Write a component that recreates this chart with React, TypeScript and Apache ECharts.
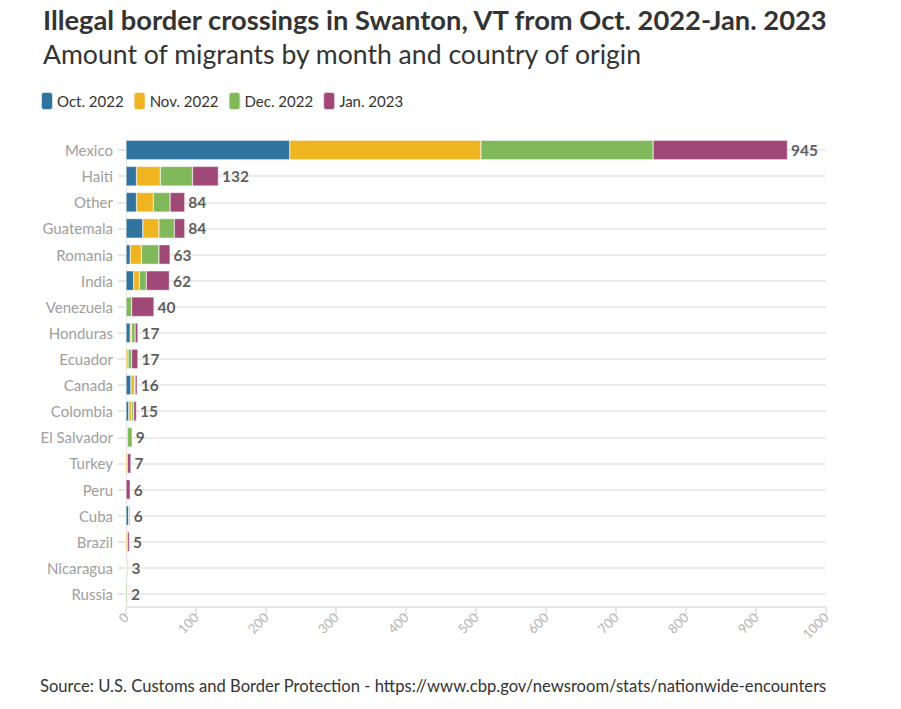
import React, { useEffect, useRef } from "react";
import * as echarts from "echarts";

const countries = [
  "Mexico", "Haiti", "Other", "Guatemala", "Romania", "India", "Venezuela", "Honduras", "Ecuador",
  "Canada", "Colombia", "El Salvador", "Turkey", "Peru", "Cuba", "Brazil", "Nicaragua", "Russia",
];
const months = ["Oct. 2022", "Nov. 2022", "Dec. 2022", "Jan. 2023"];
const oct2022 = [234, 15, 15, 24, 6, 11, 0, 6, 0, 7, 4, 1, 0, 0, 4, 0, 1, 0];
const nov2022 = [273, 34, 24, 23, 16, 8, 0, 2, 3, 5, 4, 1, 2, 0, 0, 2, 0, 0];
const dec2022 = [246, 46, 24, 22, 25, 10, 8, 5, 5, 1, 3, 7, 0, 0, 2, 0, 1, 2];
const jan2023 = [192, 37, 21, 15, 16, 33, 32, 4, 9, 3, 4, 0, 5, 6, 0, 3, 1, 0];

const colors = ["#30739f", "#efb521", "#80b85a", "#a04977"];
const FONT = "Lato, 'Noto Sans', sans-serif";

export default function App() {
  const ref = useRef<HTMLDivElement>(null);

  useEffect(() => {
    if (!ref.current) return;
    const chart = echarts.init(ref.current, undefined, { renderer: "svg" });
    const monthly = [oct2022, nov2022, dec2022, jan2023];
    const totals = countries.map((_, i) => monthly.reduce((s, arr) => s + arr[i], 0));

    const barSeries = months.map((m, k) => ({
      name: m,
      type: "bar",
      stack: "total",
      data: monthly[k],
      barCategoryGap: "25%",
      z: 5,
      itemStyle: { color: colors[k], borderColor: "rgba(255,255,255,0.75)", borderWidth: 0.5 },
      emphasis: { disabled: true },
    }));

    chart.setOption({
      animation: false,
      textStyle: { fontFamily: FONT },
      title: [
        {
          text: "Illegal border crossings in Swanton, VT from Oct. 2022-Jan. 2023",
          left: 38,
          top: 1,
          textStyle: { fontSize: 27.3, fontWeight: "bold", color: "#333333", fontFamily: FONT },
        },
        {
          text: "Amount of migrants by month and country of origin",
          left: 38,
          top: 35,
          textStyle: { fontSize: 26.6, fontWeight: "normal", color: "#333333", fontFamily: FONT },
        },
      ],
      legend: {
        data: months,
        left: 40,
        top: 91,
        padding: 0,
        icon: "roundRect",
        itemWidth: 12,
        itemHeight: 18,
        itemGap: 9,
        textStyle: { fontSize: 15, color: "#333333", padding: [0, 0, 0, -1] },
        selectedMode: false,
      },
      grid: { left: 126, right: 75, top: 137, bottom: 102, containLabel: false },
      xAxis: {
        type: "value",
        min: 0,
        max: 1000,
        interval: 100,
        axisLine: { show: true, lineStyle: { color: "#e6e6e6", width: 2 } },
        axisTick: { show: true, length: 8, lineStyle: { color: "#e6e6e6", width: 2 } },
        splitLine: { show: false },
        axisLabel: {
          rotate: 45,
          color: "#b3b3b3",
          fontSize: 13,
          margin: 8,
          formatter: (v: number) => String(v),
        },
      },
      yAxis: {
        type: "category",
        inverse: true,
        data: countries,
        axisLine: { show: true, lineStyle: { color: "#e3e3e3", width: 1 } },
        axisTick: { show: true, alignWithLabel: true, length: 8, lineStyle: { color: "#e6e6e6", width: 2 } },
        splitLine: { show: true, alignWithLabel: true, lineStyle: { color: "#ebebeb", width: 2 } },
        axisLabel: { color: "#9e9e9e", fontSize: 15, margin: 13 },
      },
      series: [
        ...barSeries,
        {
          name: "total",
          type: "scatter",
          data: totals.map((t, i) => [t, countries[i]]),
          symbolSize: 1,
          itemStyle: { color: "rgba(0,0,0,0)" },
          label: {
            show: true,
            position: "right",
            distance: 3,
            formatter: (p: any) => String(p.value[0]),
            fontSize: 15.5,
            fontWeight: "bold",
            color: "#333333",
          },
          emphasis: { disabled: true },
          silent: true,
        },
      ],
      graphic: [
        {
          type: "text",
          left: 40,
          top: 677,
          style: {
            text: "Source: U.S. Customs and Border Protection - https://www.cbp.gov/newsroom/stats/nationwide-encounters",
            fontSize: 16.6,
            fill: "#333333",
            fontFamily: FONT,
          },
        },
      ],
    });

    return () => chart.dispose();
  }, []);

  return <div ref={ref} style={{ width: 901, height: 709, position: "absolute", left: 0, top: 0 }} />;
}
